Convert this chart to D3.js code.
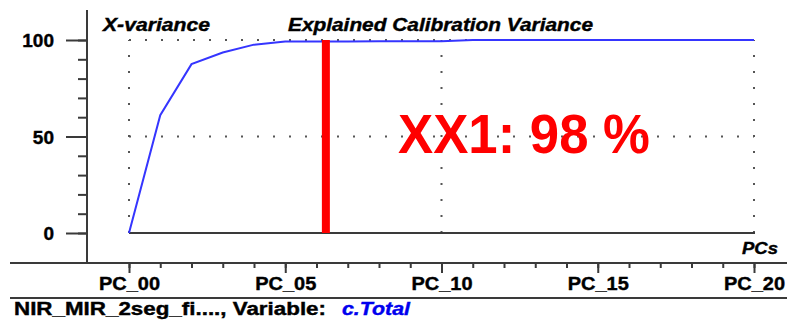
<!DOCTYPE html>
<html>
<head>
<meta charset="utf-8">
<script src="https://cdn.jsdelivr.net/npm/d3@7"></script>
<style>
  body { margin: 0; background: #fff; }
  svg { display: block; }
  text { font-family: "Liberation Sans", Arial, sans-serif; font-weight: bold; }
</style>
</head>
<body>
<div id="chart"></div>
<script>
const width = 787, height = 321;

// data
const pcs = [0, 1, 2, 3, 4, 5, 6, 7, 8, 9, 10, 11, 12, 13, 14, 15, 16, 17, 18, 19, 20];
const xVariance = [0, 61, 87.5, 93.5, 97.6, 99.2, 99.2, 99.2, 99.3, 99.3, 99.3,
    100, 100, 100, 100, 100, 100, 100, 100, 100, 100];
const yTicks = [0, 50, 100];
const xTicks = [0, 5, 10, 15, 20];
const xTickLabels = ["PC_00", "PC_05", "PC_10", "PC_15", "PC_20"];
const markerPC = 6.3;
const markerLabel = "XX1: 98 %";
const title = "Explained Calibration Variance";
const yTitle = "X-variance";
const xTitle = "PCs";
const fileLabel = "NIR_MIR_2seg_fi...., Variable:";
const variableLabel = "c.Total";

const svg = d3.select("#chart")
    .append("svg")
    .attr("width", width)
    .attr("height", height);

const x = d3.scaleLinear().domain([0, 20]).range([129, 754]);
const y = d3.scaleLinear().domain([0, 100]).range([233, 40]);

const frame = "#3a3a3a";

// frame lines
svg.append("line").attr("x1", 87).attr("x2", 87).attr("y1", 10).attr("y2", 263)
    .attr("stroke", frame).attr("stroke-width", 2);
svg.append("line").attr("x1", 10).attr("x2", width).attr("y1", 263).attr("y2", 263)
    .attr("stroke", frame).attr("stroke-width", 2);
svg.append("line").attr("x1", 10).attr("x2", width).attr("y1", 298).attr("y2", 298)
    .attr("stroke", frame).attr("stroke-width", 2);

// y axis: minor then major ticks
const yMinor = svg.append("g").attr("transform", "translate(87,0)")
    .call(d3.axisLeft(y).ticks(10).tickSize(9).tickFormat(""));
const yMajor = svg.append("g").attr("transform", "translate(87,0)")
    .call(d3.axisLeft(y).tickValues(yTicks).tickSize(21).tickFormat(d3.format("d")));
[yMinor, yMajor].forEach(g => {
    g.select(".domain").remove();
    g.selectAll(".tick line").attr("stroke", frame).attr("stroke-width", 2);
});
yMajor.selectAll(".tick text")
    .attr("x", -33)
    .attr("dy", "0.36em")
    .attr("fill", "#000")
    .attr("stroke", "#000")
    .attr("stroke-width", 0.4)
    .style("font-size", "19px")
    .style("font-weight", "bold")
    .style("font-family", "'Liberation Sans', Arial, sans-serif");

// x axis: minor then major ticks
const xMinor = svg.append("g").attr("transform", "translate(0,263)")
    .call(d3.axisBottom(x).tickValues(pcs).tickSize(5).tickFormat(""));
const xMajor = svg.append("g").attr("transform", "translate(0,263)")
    .call(d3.axisBottom(x).tickValues(xTicks).tickSize(10).tickFormat((d, i) => xTickLabels[i]));
[xMinor, xMajor].forEach(g => {
    g.select(".domain").remove();
    g.selectAll(".tick line").attr("stroke", frame).attr("stroke-width", 2);
});
xMajor.selectAll(".tick text")
    .attr("y", 14)
    .attr("dy", "0.71em")
    .attr("fill", "#000")
    .attr("stroke", "#000")
    .attr("stroke-width", 0.4)
    .attr("textLength", 61)
    .attr("lengthAdjust", "spacingAndGlyphs")
    .style("font-size", "18px")
    .style("font-weight", "bold")
    .style("font-family", "'Liberation Sans', Arial, sans-serif");

// dotted grid
const grid = svg.append("g")
    .attr("stroke", "#555")
    .attr("stroke-width", 2)
    .attr("stroke-dasharray", "2,14");
grid.selectAll("line.h")
    .data(yTicks.filter(d => d > 0))
    .join("line")
    .attr("x1", x(0)).attr("x2", x(20))
    .attr("y1", d => y(d)).attr("y2", d => y(d));
grid.selectAll("line.v")
    .data([0, 10, 20])
    .join("line")
    .attr("x1", d => x(d)).attr("x2", d => x(d))
    .attr("y1", y(0)).attr("y2", y(100));

// zero line
svg.append("line")
    .attr("x1", x(0)).attr("x2", x(20) + 1)
    .attr("y1", y(0)).attr("y2", y(0))
    .attr("stroke", frame).attr("stroke-width", 2);

// variance curve
svg.append("path")
    .datum(pcs.map((p, i) => [p, xVariance[i]]))
    .attr("fill", "none")
    .attr("stroke", "#3535ff")
    .attr("stroke-width", 2)
    .attr("d", d3.line().x(d => x(d[0])).y(d => y(d[1])));

// marker bar
svg.append("line")
    .attr("x1", x(markerPC)).attr("x2", x(markerPC))
    .attr("y1", y(100)).attr("y2", y(0))
    .attr("stroke", "#ff0000").attr("stroke-width", 8);

svg.append("text")
    .attr("x", 398).attr("y", 153)
    .attr("fill", "#ff0000")
    .attr("textLength", 252)
    .attr("lengthAdjust", "spacingAndGlyphs")
    .style("font-size", "55px")
    .text(markerLabel);

// titles
svg.append("text")
    .attr("x", 103).attr("y", 31)
    .attr("textLength", 107).attr("lengthAdjust", "spacingAndGlyphs")
    .attr("stroke", "#000").attr("stroke-width", 0.4)
    .style("font-size", "18px").style("font-style", "italic")
    .text(yTitle);
svg.append("text")
    .attr("x", 288).attr("y", 31)
    .attr("textLength", 305).attr("lengthAdjust", "spacingAndGlyphs")
    .attr("stroke", "#000").attr("stroke-width", 0.4)
    .style("font-size", "18px").style("font-style", "italic")
    .text(title);
svg.append("text")
    .attr("x", 742).attr("y", 254)
    .attr("textLength", 36).attr("lengthAdjust", "spacingAndGlyphs")
    .attr("stroke", "#000").attr("stroke-width", 0.4)
    .style("font-size", "17px").style("font-style", "italic")
    .text(xTitle);

// footer
svg.append("text")
    .attr("x", 14).attr("y", 315)
    .attr("textLength", 312).attr("lengthAdjust", "spacingAndGlyphs")
    .attr("stroke", "#000").attr("stroke-width", 0.4)
    .style("font-size", "18px")
    .text(fileLabel);
svg.append("text")
    .attr("x", 342).attr("y", 315)
    .attr("fill", "#0000ee")
    .attr("stroke", "#0000ee").attr("stroke-width", 0.4)
    .attr("textLength", 68).attr("lengthAdjust", "spacingAndGlyphs")
    .style("font-size", "18px").style("font-style", "italic")
    .text(variableLabel);
</script>
</body>
</html>
